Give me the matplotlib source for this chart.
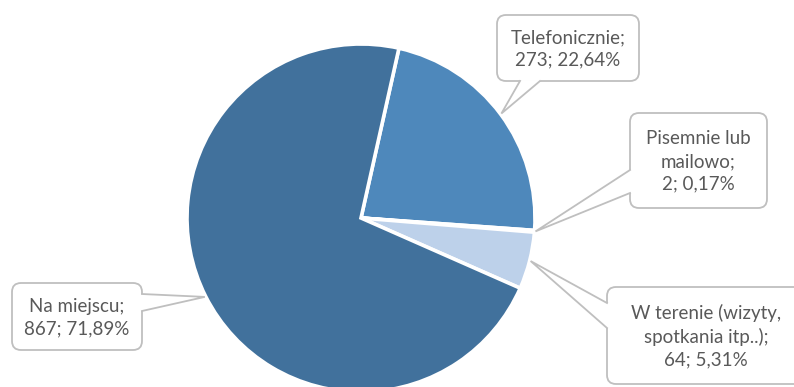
#Wykres kołowy: formy kontaktu
import numpy as np
import matplotlib.pyplot as plt
from matplotlib.patches import FancyBboxPatch, Polygon

#Dane
kategorie = ["Telefonicznie", "Pisemnie lub\nmailowo", "W terenie (wizyty,\nspotkania itp..)", "Na miejscu"]
liczby = [273, 2, 64, 867]
procenty = ["22,64%", "0,17%", "5,31%", "71,89%"]
kolory = ["#4E88BB", "#A9C0DE", "#BDD1EA", "#41719C"]

#Pozycje ramek etykiet (piksele: x0, y0, x1, y1) i podstawa "ogonka"
ramki = [(497, 15, 639, 81), (630, 113, 767, 208), (607, 287, 805, 384), (12, 283, 142, 350)]
ogonki = [((520, 81), (540, 81)), ((630, 170), (630, 193)), ((607, 303), (607, 328)), ((142, 294), (142, 311))]

W, H = 794, 387
fig = plt.figure(figsize=(W / 100, H / 100), dpi=100)
ax = fig.add_axes([0, 0, 1, 1])

cx, cy, r = 361, H - 218, 174
wedges, _ = ax.pie(liczby, colors=kolory, startangle=77.4, counterclock=False,
                   center=(cx, cy), radius=r, frame=True,
                   wedgeprops=dict(edgecolor="white", linewidth=2.6))
ax.set_xlim(0, W)
ax.set_ylim(0, H)
ax.axis("off")

szary = "#BFBFBF"
for w, kat, n, p, (x0, y0, x1, y1), (b1, b2) in zip(wedges, kategorie, liczby, procenty, ramki, ogonki):
    kat_mid = np.deg2rad((w.theta1 + w.theta2) / 2)
    tip = (cx + (r + 1) * np.cos(kat_mid), cy + (r + 1) * np.sin(kat_mid))
    box = FancyBboxPatch((x0, H - y1), x1 - x0, y1 - y0,
                         boxstyle="round,pad=0,rounding_size=9",
                         facecolor="white", edgecolor=szary, linewidth=1.3, zorder=3)
    ax.add_patch(box)
    p1 = (b1[0], H - b1[1])
    p2 = (b2[0], H - b2[1])
    #wypełnienie ogonka zachodzi lekko na ramkę, żeby przykryć jej krawędź
    srodek = ((x0 + x1) / 2, H - (y0 + y1) / 2)
    q1 = (p1[0] + (srodek[0] - p1[0]) * 0.03, p1[1] + (srodek[1] - p1[1]) * 0.03)
    q2 = (p2[0] + (srodek[0] - p2[0]) * 0.03, p2[1] + (srodek[1] - p2[1]) * 0.03)
    ax.add_patch(Polygon([tip, p1, q1, q2, p2], closed=True, facecolor="white",
                         edgecolor="none", zorder=4))
    ax.plot([p1[0], tip[0], p2[0]], [p1[1], tip[1], p2[1]], color=szary, lw=1.3,
            zorder=5, solid_joinstyle="miter")
    tx = (x0 + min(x1, 794)) / 2 if x1 < 794 else 706
    ax.text(tx, H - (y0 + y1) / 2 - 1, f"{kat};\n{n}; {p}",
            ha="center", va="center", fontsize=13.5, family="Lato",
            color="#595959", linespacing=1.4, zorder=6)

plt.savefig("out.png", dpi=100)
